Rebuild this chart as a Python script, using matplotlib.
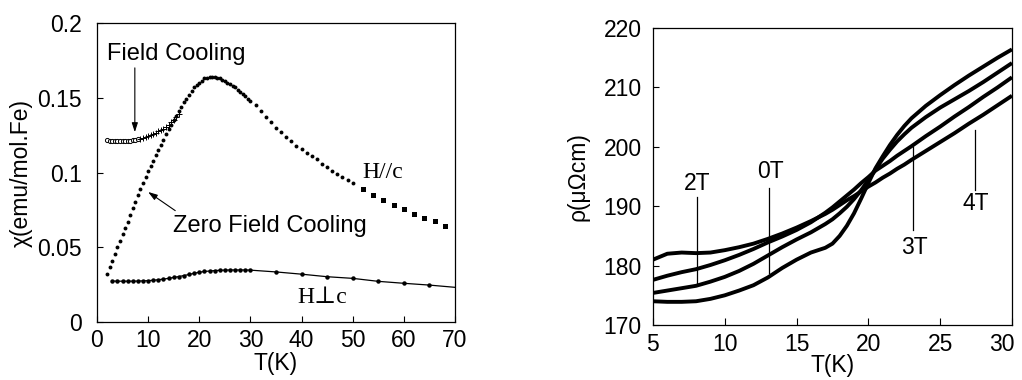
import numpy as np
import matplotlib
matplotlib.use("Agg")
import matplotlib.pyplot as plt
from matplotlib.transforms import ScaledTranslation

plt.rcParams['font.family'] = ['Liberation Sans', 'DejaVu Sans']

# -------------------------
# Left panel: susceptibility
# -------------------------
# H//c, zero field cooling (dots)
zfc_T = [2, 2.5, 3, 3.5, 4, 4.5, 5, 5.5, 6, 6.5, 7, 7.5, 8, 8.5, 9, 9.5,
         10, 10.5, 11, 11.5, 12, 12.5, 13, 13.5, 14, 14.5, 15, 15.5, 16,
         16.5, 17, 17.5, 18, 18.5, 19, 19.5, 20, 20.5, 21, 21.5, 22, 22.5,
         23, 23.5, 24, 24.5, 25, 25.5, 26, 26.5, 27, 27.5, 28, 28.5, 29,
         29.5, 30, 31, 32, 33, 34, 35, 36, 37, 38, 39, 40, 41, 42, 43, 44,
         45, 46, 47, 48, 49, 50]
zfc_chi = [0.032, 0.0365, 0.041, 0.0455, 0.050, 0.0543, 0.0587, 0.0628,
           0.067, 0.0715, 0.076, 0.0805, 0.085, 0.089, 0.093, 0.097, 0.101,
           0.1045, 0.108, 0.1115, 0.115, 0.1185, 0.122, 0.1255, 0.129,
           0.132, 0.135, 0.138, 0.141, 0.144, 0.147, 0.1495, 0.152, 0.1545,
           0.157, 0.1585, 0.160, 0.1615, 0.163, 0.1635, 0.164, 0.1642,
           0.164, 0.1635, 0.163, 0.162, 0.161, 0.160, 0.159, 0.158, 0.157,
           0.1555, 0.154, 0.1525, 0.151, 0.1495, 0.148, 0.145, 0.141, 0.137,
           0.134, 0.130, 0.127, 0.124, 0.121, 0.118, 0.116, 0.113, 0.111,
           0.109, 0.106, 0.1035, 0.101, 0.099, 0.097, 0.095, 0.093]
# H//c, high temperature part (squares)
sq_T = [52, 54, 56, 58, 60, 62, 64, 66, 68]
sq_chi = [0.089, 0.085, 0.0816, 0.0785, 0.0756, 0.0722, 0.0696, 0.0676, 0.0642]
# H//c, field cooling
fc_T = [2, 2.5, 3, 3.5, 4, 4.5, 5, 5.5, 6, 6.5, 7, 7.5, 8]
fc_chi = [0.1215, 0.1214, 0.1213, 0.1213, 0.1212, 0.1212, 0.1212, 0.1212,
          0.1213, 0.1214, 0.1215, 0.1218, 0.1222]
fc_cross_T = [8.5, 9, 9.5, 10, 10.5, 11, 11.5, 12, 12.5, 13, 13.5, 14, 14.5,
              15, 15.5, 16]
fc_cross_chi = [0.1227, 0.1233, 0.1239, 0.1245, 0.1252, 0.126, 0.1267,
                0.1275, 0.1282, 0.129, 0.1305, 0.132, 0.1335, 0.135, 0.137,
                0.139]
# H perpendicular c
perp_T = [3, 4, 5, 6, 7, 8, 9, 10, 11, 12, 13, 14, 15, 16, 17, 18, 19, 20,
          21, 22, 23, 24, 25, 26, 27, 28, 29, 30, 35, 40, 45, 50, 55, 60, 65, 70]
perp_chi = [0.0274, 0.0273, 0.0273, 0.0273, 0.0273, 0.0274, 0.0275, 0.0277,
            0.0279, 0.0283, 0.0287, 0.0292, 0.0298, 0.0304, 0.0311, 0.0318,
            0.0326, 0.0333, 0.0338, 0.0341, 0.0344, 0.0346, 0.0347, 0.0348,
            0.0348, 0.0348, 0.0348, 0.0347, 0.0335, 0.0320, 0.0303, 0.0292,
            0.0272, 0.0259, 0.0247, 0.0232]

# -------------------------
# Right panel: resistivity
# -------------------------
rho_T = [5, 6, 7, 8, 9, 10, 11, 12, 13, 14, 15, 16, 17, 17.5, 18, 18.5, 19,
         19.5, 20, 20.5, 21, 21.5, 22, 22.5, 23, 24, 25, 26, 27, 28, 29, 30]
rho_0T = [174.0, 173.9, 173.9, 174.0, 174.4, 175.0, 175.8, 176.7, 178.0,
          179.6, 181.0, 182.2, 183.0, 183.7, 185.0, 186.7, 188.8, 191.3,
          193.9, 196.4, 198.4, 200.3, 202.0, 203.5, 204.8, 206.9, 208.7,
          210.4, 212.0, 213.5, 215.0, 216.4]
rho_2T = [175.4, 175.8, 176.2, 176.6, 177.3, 178.1, 179.1, 180.3, 181.7,
          183.1, 184.4, 185.6, 187.0, 187.8, 188.8, 189.9, 191.2, 192.7,
          194.4, 196.2, 198.0, 199.5, 200.9, 202.1, 203.2, 205.0, 206.6,
          208.0, 209.4, 210.9, 212.5, 214.1]
rho_3T = [177.6, 178.3, 178.9, 179.4, 180.1, 180.9, 181.8, 182.8, 183.9,
          184.9, 186.0, 187.3, 188.9, 189.8, 190.8, 191.8, 192.8, 193.9,
          194.9, 196.0, 196.8, 197.6, 198.5, 199.3, 200.1, 201.8, 203.4,
          205.1, 206.7, 208.4, 210.0, 211.7]
rho_4T = [181.0, 182.0, 182.2, 182.1, 182.2, 182.6, 183.1, 183.7, 184.5,
          185.4, 186.4, 187.5, 188.7, 189.4, 190.2, 191.0, 191.7, 192.5,
          193.3, 194.0, 194.8, 195.5, 196.3, 197.0, 197.8, 199.3, 200.8,
          202.3, 203.9, 205.4, 207.0, 208.6]

# field labels: (text, text T, text rho, line T, line bottom, line top)
field_labels = [("2T", 8.1, 193.9, 8.1, 177.1, 191.6),
                ("0T", 13.15, 195.9, 13.1, 178.8, 193.1),
                ("3T", 23.2, 183.1, 23.1, 186.0, 199.9),
                ("4T", 27.5, 190.5, 27.4, 192.7, 202.8)]

# -------------------------
# Figure
# -------------------------
fig = plt.figure(figsize=(10.22, 3.8), dpi=100)
ax1 = fig.add_axes([0.0949, 0.1526, 0.3503, 0.7868])
ax2 = fig.add_axes([0.6389, 0.1447, 0.3513, 0.7816])

tick_fs = 16.5
for ax in (ax1, ax2):
    for sp in ax.spines.values():
        sp.set_linewidth(0.9)
    ax.tick_params(direction='in', top=False, right=False, labelsize=tick_fs,
                   length=4, width=0.8)

# left panel
ax1.plot(zfc_T, zfc_chi, 'o', color='k', ms=2.8, mew=0)
ax1.plot(sq_T, sq_chi, 's', color='k', ms=3.6, mew=0)
ax1.plot(fc_T, fc_chi, 'o', mfc='white', mec='k', ms=3.0, mew=0.7)
ax1.plot(fc_cross_T, fc_cross_chi, '+', color='k', ms=4.0, mew=0.7)
ax1.plot(perp_T, perp_chi, '-', color='k', lw=0.9)
ax1.plot(perp_T[:-1], perp_chi[:-1], 'o', color='k', ms=3.2, mew=0)

ax1.set_xlim(0, 70)
ax1.set_ylim(0, 0.2)
ax1.set_xticks(np.arange(0, 71, 10))
ax1.set_yticks([0, 0.05, 0.1, 0.15, 0.2])
ax1.set_yticklabels(["0", "0.05", "0.1", "0.15", "0.2"])
ax1.tick_params(axis='y', pad=11)
ax1.tick_params(axis='x', pad=5)
ax1.set_xlabel("T(K)", fontsize=tick_fs, labelpad=0)
ax1.set_ylabel("χ(emu/mol.Fe)", fontsize=tick_fs, labelpad=3)

arrow = dict(arrowstyle='-|>,head_length=0.55,head_width=0.18', color='k',
             lw=0.8, shrinkA=0, shrinkB=0)
ax1.text(15.5, 0.1795, "Field Cooling", fontsize=17, ha='center', va='center')
ax1.annotate("", xy=(7.4, 0.127), xytext=(7.4, 0.170), arrowprops=arrow)
ax1.text(33.9, 0.064, "Zero Field Cooling", fontsize=17, ha='center',
         va='center')
ax1.annotate("", xy=(10.0, 0.087), xytext=(15.3, 0.0745), arrowprops=arrow)
ax1.text(55.8, 0.100, "H//c", fontsize=17, ha='center', va='center',
         family=['Liberation Serif', 'DejaVu Serif'])
ax1.text(44.0, 0.0165, "H⊥c", fontsize=17, ha='center', va='center',
         family=['Liberation Serif', 'DejaVu Serif'])

# right panel
for vals in (rho_0T, rho_2T, rho_3T, rho_4T):
    ax2.plot(rho_T, vals, '-', color='k', lw=2.8, solid_capstyle='butt')

for txt, tx, ty, lx, lo, hi in field_labels:
    ax2.plot([lx, lx], [lo, hi], '-', color='k', lw=0.9)
    ax2.text(tx, ty, txt, fontsize=tick_fs, ha='center', va='center')

ax2.set_xlim(5, 30)
ax2.set_ylim(170, 220)
ax2.set_xticks(np.arange(5, 31, 5))
ax2.set_yticks(np.arange(170, 221, 10))
ax2.tick_params(axis='y', pad=8)
ax2.tick_params(axis='x', pad=6, length=5)
ax2.set_xlabel("T(K)", fontsize=tick_fs, labelpad=-2)
ax2.set_ylabel("ρ(μΩcm)", fontsize=tick_fs, labelpad=10)

# keep the last tick label inside the figure
last = ax2.get_xticklabels()[-1]
last.set_transform(last.get_transform()
                   + ScaledTranslation(-7 / 72, 0, fig.dpi_scale_trans))

fig.savefig("out.png", dpi=100)
